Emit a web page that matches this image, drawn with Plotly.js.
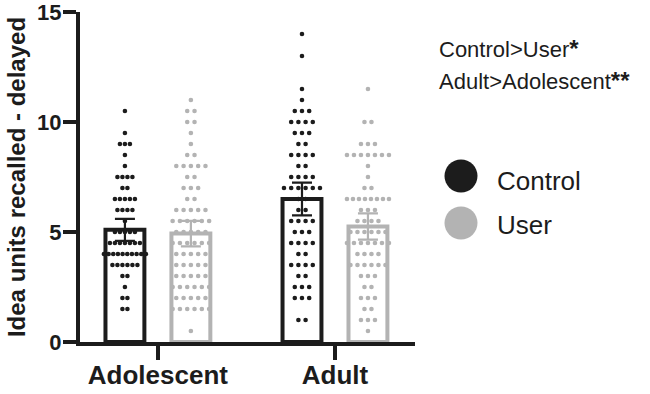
<!DOCTYPE html>
<html>
<head>
<meta charset="utf-8">
<script src="https://cdn.plot.ly/plotly-3.0.1.min.js"></script>
<style>html,body{margin:0;padding:0;background:#fff;}#chart{width:650px;height:394px;}</style>
</head>
<body>
<div id="chart"></div>
<script>
// ---- data ----
const groups = ["Adolescent", "Adult"];
const seriesNames = ["Control", "User"];
const controlMeans = [5.1, 6.5];
const controlSEM = [0.5, 0.74];
const userMeans = [4.93, 5.25];
const userSEM = [0.58, 0.6];
const yTicks = [0, 5, 10, 15];

const adolControl = [10.5, 9.5, 9, 9, 9, 8.5, 8, 7.5, 7.5, 7.5, 7.5, 7, 7, 6.5, 6.5, 6.5, 6.5, 6.5, 6, 6, 6, 6, 5.5, 5, 5, 5, 5, 5, 4.5, 4.5, 4.5, 4.5, 4.5, 4.5, 4.5, 4, 4, 4, 4, 4, 4, 4, 4, 4, 4, 3.5, 3.5, 3.5, 3.5, 3.5, 3.5, 3, 3, 2.5, 2, 2, 1.5, 1.5];
const adolUser = [11, 10.5, 10.5, 10, 10, 9.5, 9, 8.5, 8.5, 8, 8, 8, 8, 8, 7.5, 7.5, 7, 7, 7, 6.5, 6.5, 6, 6, 6, 6, 6, 5.5, 5.5, 5.5, 5.5, 5.5, 5.5, 5, 5, 5, 5, 5, 4.5, 4.5, 4.5, 4.5, 4.5, 4.5, 4, 4, 4, 4, 4, 3.5, 3.5, 3.5, 3.5, 3.5, 3, 3, 3, 3, 3, 2.5, 2.5, 2.5, 2.5, 2.5, 2.5, 2, 2, 2, 2, 2, 1.5, 1.5, 1.5, 1.5, 1.5, 1.5, 0.5];
const adultControl = [14, 13, 11.5, 11, 10.5, 10.5, 10.5, 10, 10, 10, 10, 9.5, 9.5, 9.5, 9, 9, 8.5, 8.5, 8.5, 8.5, 8, 8, 7.5, 7.5, 7.5, 7.5, 7, 7, 7, 7, 7, 7, 6.5, 6.5, 6, 6, 5.5, 5.5, 5.5, 5.5, 5, 5, 5, 4.5, 4.5, 4.5, 4.5, 4, 4, 3.5, 3.5, 3.5, 3.5, 3, 3, 2.5, 2.5, 2.5, 2, 2, 2, 1, 1];
const adultUser = [11.5, 10, 10, 9, 9, 9, 8.5, 8.5, 8.5, 8.5, 8.5, 8.5, 8.5, 8, 7.5, 7, 7, 6.5, 6.5, 6.5, 6.5, 6.5, 6.5, 6.5, 6.5, 6, 6, 6, 5.5, 5.5, 5.5, 5.5, 5, 5, 5, 5, 5, 5, 4.5, 4.5, 4.5, 4.5, 4.5, 4.5, 4.5, 4, 4, 4, 4, 3.5, 3.5, 3.5, 3.5, 3.5, 3.5, 3, 3, 3, 2.5, 2.5, 2, 2, 2, 1.5, 1.5, 1, 1, 1, 0.5];

// ---- styling / layout constants ----
const BLACK = "#1c1c1c";
const GRAY = "#b3b3b3";
const FONT = "Liberation Sans, Arial, Helvetica, sans-serif";
const ML = 80, MR = 235, MT = 12, MB = 52, W = 650, H = 394;
const xRange = [-0.44, 1.452];
const bargap = 0.255, bargroupgap = 0.41;
const pxPerUnit = (W - ML - MR) / (xRange[1] - xRange[0]);
const sideOffset = (1 - bargap) / 4;

// scatter-dot column layout (Prism-like rows)
function spreadX(values, center, basePx, maxSpanPx) {
  const counts = {};
  values.forEach(v => { counts[v] = (counts[v] || 0) + 1; });
  const seen = {};
  return values.map(v => {
    const n = counts[v];
    const i = seen[v] = (seen[v] === undefined ? 0 : seen[v] + 1);
    const s = n > 1 ? Math.min(basePx, maxSpanPx / (n - 1)) : 0;
    return center + ((i - (n - 1) / 2) * s) / pxPerUnit;
  });
}

const traces = [];
// bars
traces.push({
  type: "bar", x: [0, 1], y: controlMeans, name: seriesNames[0], offsetgroup: "c",
  marker: { color: "rgba(0,0,0,0)", line: { color: BLACK, width: 4 } }, hoverinfo: "skip"
});
traces.push({
  type: "bar", x: [0, 1], y: userMeans, name: seriesNames[1], offsetgroup: "u",
  marker: { color: "rgba(0,0,0,0)", line: { color: GRAY, width: 4 } }, hoverinfo: "skip"
});
// dots
const dotSets = [
  [adolControl, 0 - sideOffset, BLACK, 5.0],
  [adolUser, 0 + sideOffset, GRAY, 7.3],
  [adultControl, 1 - sideOffset, BLACK, 7.2],
  [adultUser, 1 + sideOffset, GRAY, 7.0]
];
dotSets.forEach(([vals, c, col, base]) => {
  traces.push({
    type: "scatter", mode: "markers", x: spreadX(vals, c, base, 42), y: vals,
    marker: { size: 4.6, color: col }, cliponaxis: false, hoverinfo: "y"
  });
});
// error bars on top
traces.push({
  type: "scatter", mode: "markers", x: [0 - sideOffset, 1 - sideOffset], y: controlMeans,
  marker: { size: 1, color: "rgba(0,0,0,0)" },
  error_y: { type: "data", array: controlSEM, color: BLACK, thickness: 2.2, width: 10 }
});
traces.push({
  type: "scatter", mode: "markers", x: [0 + sideOffset, 1 + sideOffset], y: userMeans,
  marker: { size: 1, color: "rgba(0,0,0,0)" },
  error_y: { type: "data", array: userSEM, color: GRAY, thickness: 2.2, width: 10 }
});

const pw = W - ML - MR, ph = H - MT - MB;
const px2paperX = x => (x - ML) / pw;
const px2paperY = y => (H - MB - y) / ph;

const layout = {
  width: W, height: H,
  margin: { l: ML, r: MR, t: MT, b: MB, pad: 0 },
  paper_bgcolor: "#fff", plot_bgcolor: "#fff",
  showlegend: false,
  barmode: "group", bargap: bargap, bargroupgap: bargroupgap,
  font: { family: FONT, color: BLACK },
  xaxis: {
    range: xRange, tickvals: [0, 1], ticktext: groups,
    showgrid: false, zeroline: false, showline: true, linecolor: BLACK, linewidth: 4,
    ticks: "outside", ticklen: 14, tickwidth: 4, tickcolor: BLACK,
    ticklabelstandoff: -7,
    tickfont: { family: FONT, size: 26, weight: "bold", color: BLACK }
  },
  yaxis: {
    range: [0, 15], tickvals: yTicks, ticktext: yTicks.map(String),
    showgrid: false, zeroline: false, showline: true, linecolor: BLACK, linewidth: 4,
    ticks: "outside", ticklen: 13, tickwidth: 4, tickcolor: BLACK,
    ticklabelstandoff: -3, ticklabeloverflow: "allow",
    tickfont: { family: FONT, size: 22, weight: "bold", color: BLACK },
    title: { text: "Idea units recalled - delayed", font: { family: FONT, size: 24, weight: "bold", color: BLACK }, standoff: 6 }
  },
  shapes: [
    { type: "circle", xref: "paper", yref: "paper", xsizemode: "pixel", ysizemode: "pixel",
      xanchor: px2paperX(461), yanchor: px2paperY(176), x0: -16.5, x1: 16.5, y0: -16.5, y1: 16.5,
      fillcolor: BLACK, line: { width: 0 } },
    { type: "circle", xref: "paper", yref: "paper", xsizemode: "pixel", ysizemode: "pixel",
      xanchor: px2paperX(461), yanchor: px2paperY(223), x0: -16.5, x1: 16.5, y0: -16.5, y1: 16.5,
      fillcolor: GRAY, line: { width: 0 } }
  ],
  annotations: [
    { xref: "paper", yref: "paper", x: px2paperX(437), y: px2paperY(49), xanchor: "left", yanchor: "middle",
      text: "Control>User<b><span style='font-size:24px'>*</span></b>", showarrow: false, font: { family: FONT, size: 22, color: BLACK } },
    { xref: "paper", yref: "paper", x: px2paperX(437), y: px2paperY(80), xanchor: "left", yanchor: "middle",
      text: "Adult>Adolescent<b><span style='font-size:24px'>**</span></b>", showarrow: false, font: { family: FONT, size: 22, color: BLACK } },
    { xref: "paper", yref: "paper", x: px2paperX(495), y: px2paperY(181), xanchor: "left", yanchor: "middle",
      text: seriesNames[0], showarrow: false, font: { family: FONT, size: 26, color: BLACK } },
    { xref: "paper", yref: "paper", x: px2paperX(495), y: px2paperY(225), xanchor: "left", yanchor: "middle",
      text: seriesNames[1], showarrow: false, font: { family: FONT, size: 26, color: BLACK } }
  ]
};

Plotly.newPlot("chart", traces, layout, { displayModeBar: false, staticPlot: true });
</script>
</body>
</html>
